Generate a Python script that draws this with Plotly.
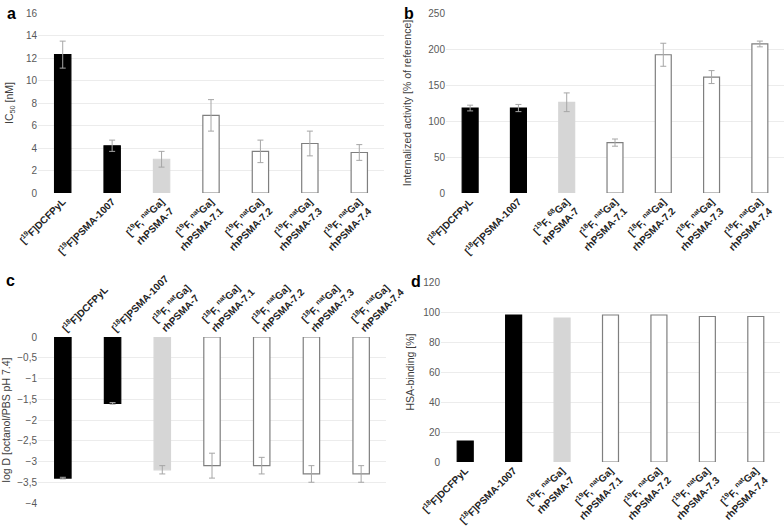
import plotly.graph_objects as go

# ---------------- data ----------------
labels_a = ["[<sup>19</sup>F]DCFPyL", "[<sup>19</sup>F]PSMA-1007",
            "[<sup>19</sup>F, <sup>nat</sup>Ga]<br>rhPSMA-7", "[<sup>19</sup>F, <sup>nat</sup>Ga]<br>rhPSMA-7.1",
            "[<sup>19</sup>F, <sup>nat</sup>Ga]<br>rhPSMA-7.2", "[<sup>19</sup>F, <sup>nat</sup>Ga]<br>rhPSMA-7.3",
            "[<sup>19</sup>F, <sup>nat</sup>Ga]<br>rhPSMA-7.4"]
labels_b = ["[<sup>18</sup>F]DCFPyL", "[<sup>18</sup>F]PSMA-1007",
            "[<sup>19</sup>F, <sup>68</sup>Ga]<br>rhPSMA-7", "[<sup>18</sup>F, <sup>nat</sup>Ga]<br>rhPSMA-7.1",
            "[<sup>18</sup>F, <sup>nat</sup>Ga]<br>rhPSMA-7.2", "[<sup>18</sup>F, <sup>nat</sup>Ga]<br>rhPSMA-7.3",
            "[<sup>18</sup>F, <sup>nat</sup>Ga]<br>rhPSMA-7.4"]
labels_c = ["[<sup>18</sup>F]DCFPyL", "[<sup>18</sup>F]PSMA-1007",
            "[<sup>18</sup>F, <sup>nat</sup>Ga]<br>rhPSMA-7", "[<sup>18</sup>F, <sup>nat</sup>Ga]<br>rhPSMA-7.1",
            "[<sup>18</sup>F, <sup>nat</sup>Ga]<br>rhPSMA-7.2", "[<sup>18</sup>F, <sup>nat</sup>Ga]<br>rhPSMA-7.3",
            "[<sup>18</sup>F, <sup>nat</sup>Ga]<br>rhPSMA-7.4"]
labels_d = ["[<sup>18</sup>F]DCFPyL", "[<sup>18</sup>F]PSMA-1007",
            "[<sup>19</sup>F, <sup>nat</sup>Ga]<br>rhPSMA-7", "[<sup>19</sup>F, <sup>nat</sup>Ga]<br>rhPSMA-7.1",
            "[<sup>19</sup>F, <sup>nat</sup>Ga]<br>rhPSMA-7.2", "[<sup>19</sup>F, <sup>nat</sup>Ga]<br>rhPSMA-7.3",
            "[<sup>19</sup>F, <sup>nat</sup>Ga]<br>rhPSMA-7.4"]

ic50 = [12.3, 4.2, 3.0, 6.9, 3.7, 4.4, 3.6]
ic50_err = [1.2, 0.5, 0.7, 1.4, 1.0, 1.1, 0.7]
intern = [118, 118, 126, 70, 192, 161, 207]
intern_err = [4, 5, 13, 5, 16, 9, 4]
logd = [-3.4, -1.6, -3.2, -3.1, -3.1, -3.3, -3.3]
logd_err = [0.02, 0.02, 0.1, 0.3, 0.2, 0.2, 0.2]
hsa = [14, 98, 96, 98, 98, 97, 97]

fill_colors = ["#000000", "#000000", "#d6d6d6", "#ffffff", "#ffffff", "#ffffff", "#ffffff"]
line_colors = ["#000000", "#000000", "#d6d6d6", "#7f7f7f", "#7f7f7f", "#7f7f7f", "#7f7f7f"]

FONT = "Liberation Sans, Arial, sans-serif"
fig = go.Figure()

def add_bar(x, y, err, xa, ya):
    eb = None
    if err is not None:
        eb = dict(type="data", array=err, visible=True, color="#a6a6a6", thickness=1, width=3)
    fig.add_trace(go.Bar(
        x=[f"<b>{l}</b>" for l in x], y=y, error_y=eb, xaxis=xa, yaxis=ya,
        marker=dict(color=fill_colors, line=dict(color=line_colors, width=1.2)),
        showlegend=False))

add_bar(labels_a, ic50, ic50_err, "x", "y")
add_bar(labels_b, intern, intern_err, "x2", "y2")
add_bar(labels_c, logd, logd_err, "x3", "y3")
add_bar(labels_d, hsa, None, "x4", "y4")

W, H = 784, 528
def dx(a, b):
    return [a / W, b / W]
def dy(top, bottom):
    return [(H - bottom) / H, (H - top) / H]

xcommon = dict(tickangle=-45, tickfont=dict(size=10, color="#222222", family=FONT),
               showgrid=False, showline=False, ticks="", zeroline=False, automargin=False)
ycommon = dict(tickfont=dict(size=10, color="#595959", family=FONT),
               gridcolor="#ececec", gridwidth=1, zeroline=False, showline=False, ticks="",
               automargin=False)
tfont = dict(size=10.5, color="#404040", family=FONT)

fig.update_layout(
    width=W, height=H, margin=dict(l=0, r=0, t=0, b=0, autoexpand=False),
    paper_bgcolor="white", plot_bgcolor="white",
    bargap=0.67, separators=",.",
    font=dict(family=FONT),
    xaxis=dict(domain=dx(38, 384), anchor="y", **xcommon),
    yaxis=dict(domain=dy(13, 193), range=[0, 16], dtick=2, anchor="x",
               title=dict(text="IC<sub>50</sub> [nM]", font=tfont, standoff=10), **ycommon),
    xaxis2=dict(domain=dx(446, 784), anchor="y2", **xcommon),
    yaxis2=dict(domain=dy(13, 193), range=[0, 250], dtick=50, anchor="x2",
                title=dict(text="Internalized activity [% of reference]", font=tfont, standoff=14), **ycommon),
    xaxis3=dict(domain=dx(38, 386), anchor="y3", side="top", **xcommon),
    yaxis3=dict(domain=dy(337, 503), range=[-4, 0], dtick=0.5, anchor="x3",
                title=dict(text="log D [octanol/PBS pH 7.4]", font=tfont, standoff=7), **ycommon),
    xaxis4=dict(domain=dx(441, 780), anchor="y4", **xcommon),
    yaxis4=dict(domain=dy(282, 462), range=[0, 120], dtick=20, anchor="x4",
                title=dict(text="HSA-binding [%]", font=tfont, standoff=6), **ycommon),
)

for letter, x, y in [("a", 11, 13), ("b", 409, 13), ("c", 10, 280), ("d", 416, 281)]:
    fig.add_annotation(text=f"<b>{letter}</b>", x=x / W, y=(H - y) / H, xref="paper", yref="paper",
                       showarrow=False, xanchor="center", yanchor="middle",
                       font=dict(size=16, color="#000000", family=FONT))

fig.write_html("out.html", config={"displayModeBar": False},
               post_script="document.body.style.margin='0px';document.body.style.overflow='hidden';")
